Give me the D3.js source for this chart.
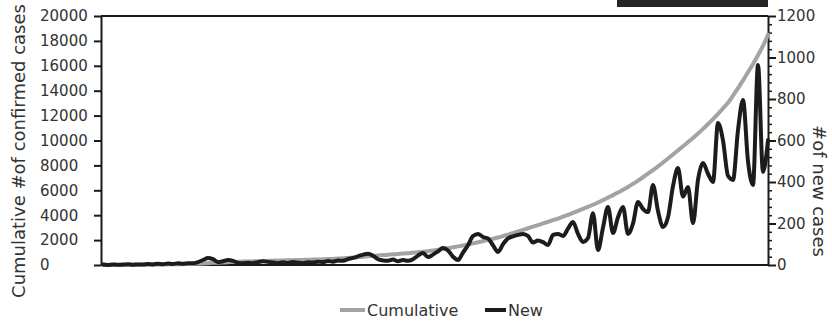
<!DOCTYPE html>
<html>
<head>
<meta charset="utf-8">
<script src="https://cdn.jsdelivr.net/npm/d3@7/dist/d3.min.js"></script>
<style>
  html, body { margin: 0; padding: 0; background: #ffffff; }
  svg { display: block; }
  text { font-family: "DejaVu Sans", Verdana, sans-serif; fill: #333333; }
</style>
</head>
<body>
<svg id="chart" width="832" height="322"></svg>
<script>
// ---- data ----
const newCases = [
  2,0,3,1,2,4,1,3,2,5, 3,6,4,7,5,8,6,9,8,14,
  24,34,28,14,18,24,20,10,8,11, 9,14,18,15,12,9,13,10,14,11,
  9,13,12,16,14,19,16,22,20,28, 34,42,50,54,45,28,22,20,26,18,
  24,20,28,45,58,38,50,66,82,70, 40,24,60,95,140,150,135,128,95,63,
  100,128,138,145,150,140,108,118,110,96, 145,150,140,175,207,150,111,130,250,72,
  180,280,154,230,280,150,200,304,270,255, 386,260,183,230,380,467,330,376,202,410,
  491,440,400,684,600,430,410,650,795,500, 386,964,448,602
];
const cumulative = [
  0,2,4,7,10,13,17,21,25,30, 35,40,45,50,56,62,70,78,88,100,
  118,145,172,190,208,230,250,262,272,282, 292,304,318,333,346,356,366,378,388,400,
  410,420,432,445,458,474,492,514,540,570, 600,630,665,700,735,765,795,825,855,885,
  915,950,985,1025,1065,1110,1160,1220,1285,1355, 1425,1495,1570,1650,1735,1825,1920,2015,2110,2210,
  2320,2440,2565,2690,2820,2950,3080,3210,3340,3470, 3600,3730,3880,4030,4190,4350,4510,4670,4840,5020,
  5210,5410,5610,5820,6040,6270,6520,6780,7050,7330, 7620,7920,8230,8550,8880,9210,9540,9870,10200,10560,
  10930,11320,11720,12140,12580,13030,13600,14200,14830,15480, 16150,16850,17600,18500
];
const days = newCases.map((d, i) => i + 1);
const leftTicks = [0, 2000, 4000, 6000, 8000, 10000, 12000, 14000, 16000, 18000, 20000];
const rightTicks = [0, 200, 400, 600, 800, 1000, 1200];
const leftTitle = "Cumulative #of confirmed cases";
const rightTitle = "#of new cases";
const seriesNames = ["Cumulative", "New"];
const seriesColors = ["#a3a3a3", "#1c1c1c"];

// ---- layout ----
const svg = d3.select("#chart");
const L = 101, R = 768, T = 16, B = 265;

const x = d3.scaleLinear().domain([days[0], days[days.length - 1]]).range([L + 2, R]);
const yL = d3.scaleLinear().domain([0, 20000]).range([B, T]);
const yR = d3.scaleLinear().domain([0, 1200]).range([B, T]);

// dark strip at top (cropped element in the reference)
svg.append("rect").attr("x", 617).attr("y", 0).attr("width", R - 617).attr("height", 7).attr("fill", "#262626");

// left axis
const gL = svg.append("g").attr("transform", `translate(${L},0)`)
  .call(d3.axisLeft(yL).tickValues(leftTicks).tickSize(7).tickSizeOuter(0).tickFormat(d => d));
gL.select(".domain").attr("stroke", "#1a1a1a").attr("stroke-width", 2);
gL.selectAll(".tick line").attr("stroke", "#1a1a1a").attr("stroke-width", 2);
gL.selectAll(".tick text").attr("text-anchor", "start").attr("x", 40 - L)
  .style("font-size", "15px").style("font-family", '"DejaVu Sans", sans-serif').attr("fill", "#333333");

// right axis (major + minor)
const gRm = svg.append("g").attr("transform", `translate(${R},0)`)
  .call(d3.axisRight(yR).tickValues(d3.range(0, 1201, 40).filter(v => v % 200 !== 0))
    .tickSize(4).tickSizeOuter(0).tickFormat(""));
gRm.select(".domain").remove();
gRm.selectAll(".tick line").attr("stroke", "#1a1a1a").attr("stroke-width", 1.5);

const gR = svg.append("g").attr("transform", `translate(${R},0)`)
  .call(d3.axisRight(yR).tickValues(rightTicks).tickSize(8).tickSizeOuter(0).tickFormat(d => d));
gR.select(".domain").attr("stroke", "#1a1a1a").attr("stroke-width", 2);
gR.selectAll(".tick line").attr("stroke", "#1a1a1a").attr("stroke-width", 2);
gR.selectAll(".tick text").attr("x", 9)
  .style("font-size", "15px").style("font-family", '"DejaVu Sans", sans-serif').attr("fill", "#333333");

// top border
svg.append("line").attr("x1", L).attr("x2", R).attr("y1", T).attr("y2", T)
  .attr("stroke", "#1a1a1a").attr("stroke-width", 2);
// baseline
svg.append("line").attr("x1", L).attr("x2", R).attr("y1", B).attr("y2", B)
  .attr("stroke", "#1a1a1a").attr("stroke-width", 2);

// lines
const cumLine = d3.line().x((d, i) => x(days[i])).y(d => yL(d)).curve(d3.curveMonotoneX);
const newLine = d3.line().x((d, i) => x(days[i])).y(d => yR(d)).curve(d3.curveMonotoneX);

svg.append("path").datum(cumulative).attr("d", cumLine)
  .attr("fill", "none").attr("stroke", seriesColors[0]).attr("stroke-width", 4)
  .attr("stroke-linejoin", "round").attr("stroke-linecap", "round");
svg.append("path").datum(newCases).attr("d", newLine)
  .attr("fill", "none").attr("stroke", seriesColors[1]).attr("stroke-width", 4)
  .attr("stroke-linejoin", "round").attr("stroke-linecap", "round");

// axis titles
svg.append("text").attr("transform", `translate(25,151) rotate(-90)`)
  .attr("text-anchor", "middle").style("font-size", "18px").text(leftTitle);
svg.append("text").attr("transform", `translate(813,191) rotate(90)`)
  .attr("text-anchor", "middle").style("font-size", "18px").text(rightTitle);

// legend
const legendItems = [
  { name: seriesNames[0], color: seriesColors[0], x1: 340, x2: 365, tx: 367 },
  { name: seriesNames[1], color: seriesColors[1], x1: 485, x2: 506, tx: 508 }
];
const lg = svg.append("g");
legendItems.forEach(it => {
  lg.append("line").attr("x1", it.x1).attr("x2", it.x2).attr("y1", 310).attr("y2", 310)
    .attr("stroke", it.color).attr("stroke-width", 4);
  lg.append("text").attr("x", it.tx).attr("y", 310).attr("dy", "0.35em")
    .style("font-size", "16px").text(it.name);
});
</script>
</body>
</html>
